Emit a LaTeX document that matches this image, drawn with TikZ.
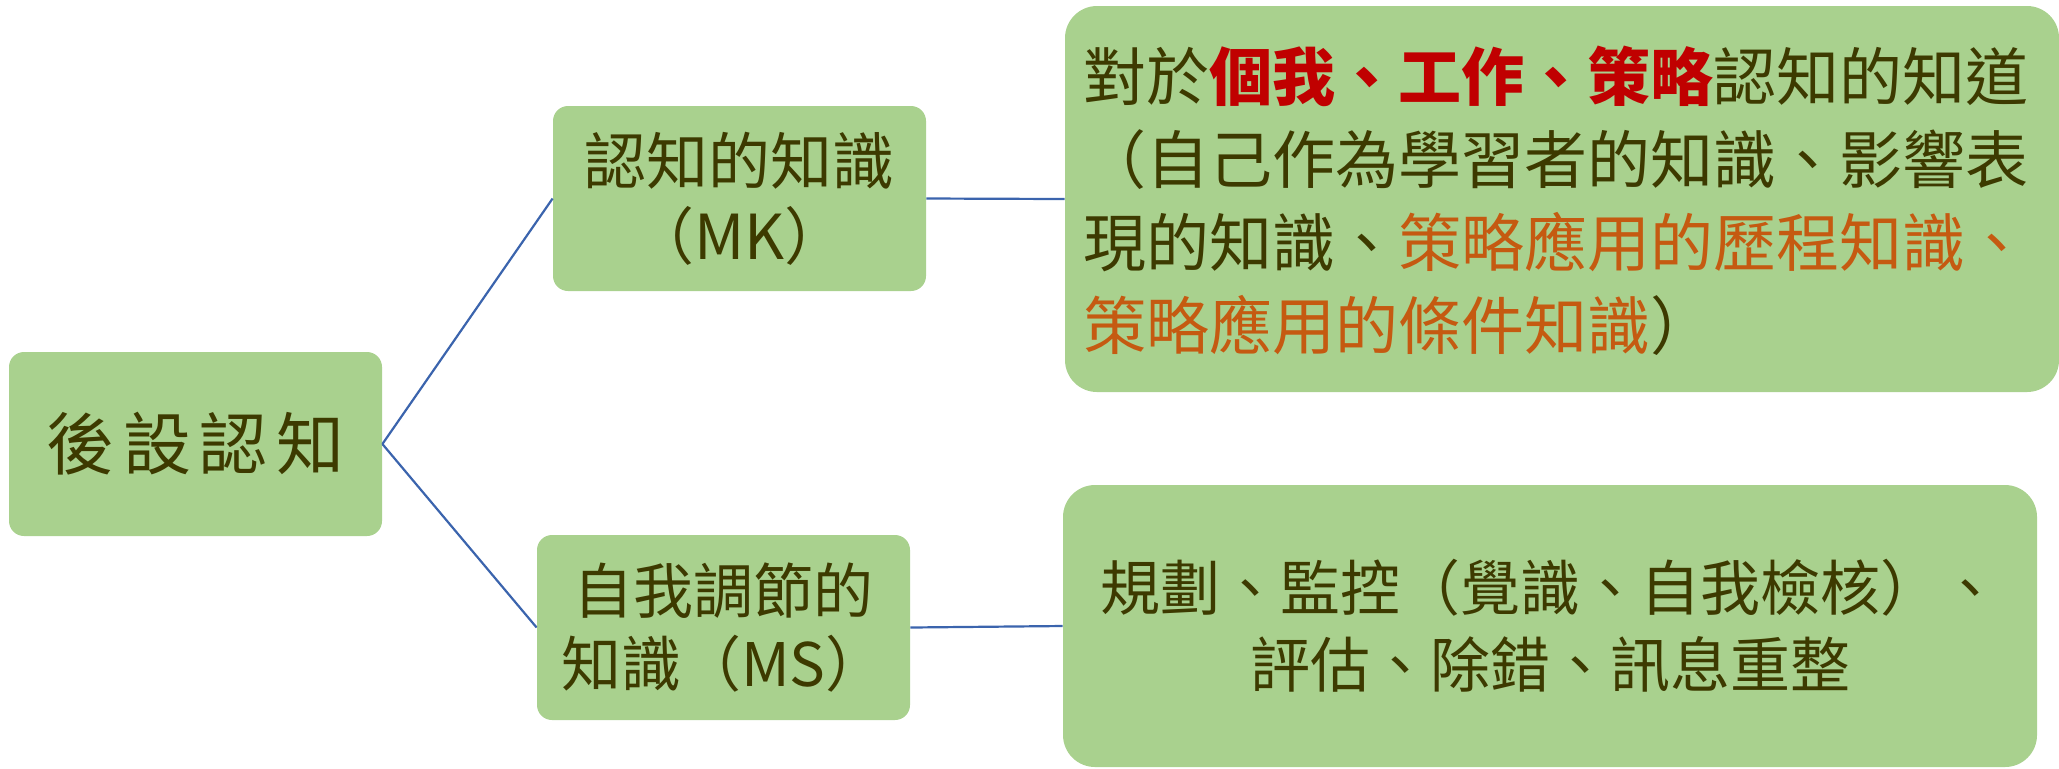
\documentclass[tikz,border=0pt]{standalone}
\usepackage{fontspec}
\setmainfont{Noto Sans CJK TC}
\newfontfamily\cjk{Noto Sans CJK TC}
\newfontfamily\cjkwide[LetterSpace=13]{Noto Sans CJK TC}
\definecolor{boxfill}{HTML}{A9D18E}
\definecolor{textdark}{HTML}{3D3A00}
\definecolor{textred}{HTML}{C00000}
\definecolor{textorange}{HTML}{C55A11}
\definecolor{linkblue}{HTML}{3B64AD}
\begin{document}
\begin{tikzpicture}[x=0.5pt,y=-0.5pt,
  box/.style={rectangle, fill=boxfill, draw=none, inner sep=0pt, rounded corners=7.5pt, text=textdark, align=center},
  bigbox/.style={box, rounded corners=16pt},
  link/.style={draw=linkblue, line width=1.1pt}]
\useasboundingbox (0,0) rectangle (2059,768);
\node[box, minimum width=186.5pt, minimum height=92pt, font=\cjkwide\fontsize{34}{40}\selectfont] (root) at (195.5,444) {後設認知};
\node[box, minimum width=186.5pt, minimum height=92.5pt, font=\cjk\fontsize{31}{37.5}\selectfont] (mk) at (739.5,198.5) {認知的知識\\（MK）};
\node[box, minimum width=186.5pt, minimum height=92.5pt, font=\cjk\fontsize{30}{36.5}\selectfont] (ms) at (723.5,627.5) {自我調節的\\知識（MS）};
\node[bigbox, minimum width=497pt, minimum height=193pt] (tr) at (1562,199) {};
\node[anchor=west, inner sep=0pt, align=left, text=textdark, font=\cjk\fontsize{31.5}{41.5}\selectfont] (trtext) at (1083,200.5)
  {對於\textcolor{textred}{\bfseries 個我、工作、策略}認知的知道\\
   （自己作為學習者的知識、影響表\\
   現的知識、\textcolor{textorange}{策略應用的歷程知識、}\\
   \textcolor{textorange}{策略應用的條件知識}）};
\node[bigbox, minimum width=487pt, minimum height=141pt, font=\cjk\fontsize{30}{38.5}\selectfont] (br) at (1550,626)
  {規劃、監控（覺識、自我檢核）、\\評估、除錯、訊息重整};
\draw[link] (root.east) -- (mk.west);
\draw[link] (root.east) -- (ms.west);
\draw[link] (mk.east) -- (tr.west);
\draw[link] (ms.east) -- (br.west);
\end{tikzpicture}
\end{document}
